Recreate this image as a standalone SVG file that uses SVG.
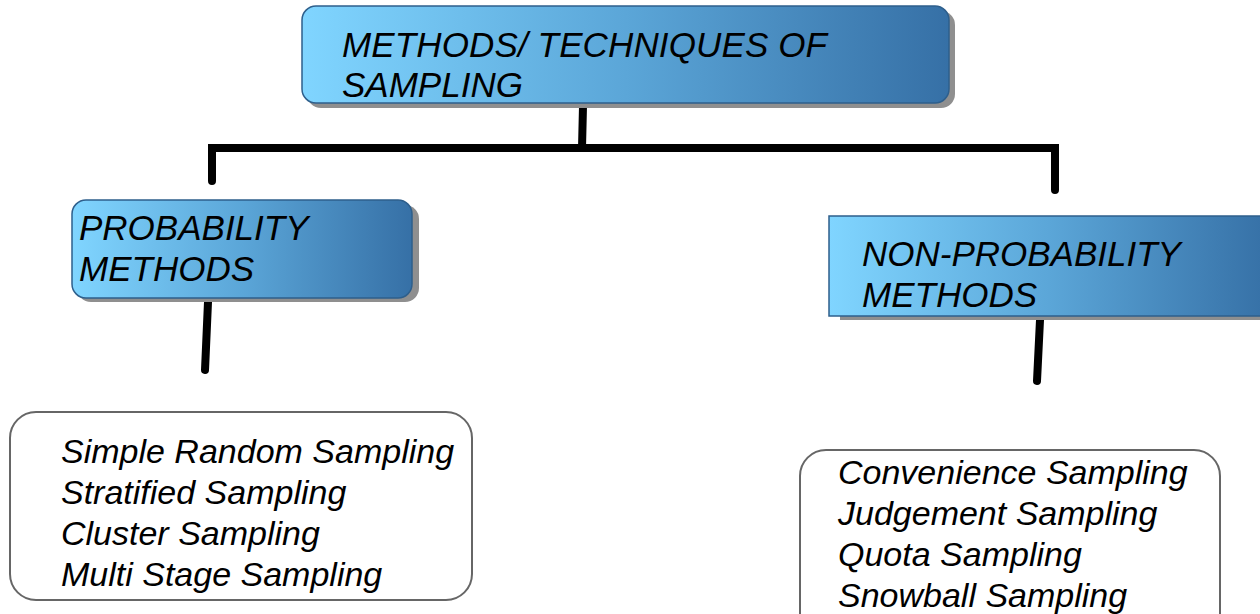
<svg xmlns="http://www.w3.org/2000/svg" width="1260" height="614" viewBox="0 0 1260 614">
<defs>
<linearGradient id="blue" x1="0" y1="0" x2="1" y2="0">
<stop offset="0" stop-color="#80d5ff"/>
<stop offset="0.5" stop-color="#5ba6d8"/>
<stop offset="1" stop-color="#3670a6"/>
</linearGradient>
<style>
.box{fill:url(#blue);stroke:#2e5f8c;stroke-width:1.5}
.shadow{fill:#8f8f8f}
.list{fill:#fff;stroke:#666;stroke-width:2}
text{font-family:"Liberation Sans",Arial,sans-serif;font-style:italic;font-size:34px;fill:#000}
.big{font-size:35px}
.conn{stroke:#000;stroke-width:8;stroke-linecap:round;fill:none}
</style>
</defs>
<rect width="1260" height="614" fill="#fff"/>
<g id="connectors">
<path class="conn" d="M583,106 L582,148"/>
<path class="conn" d="M212,181 L212,148 L1055,148 L1055,190"/>
<path class="conn" d="M208,302 L205,370"/>
<path class="conn" d="M1040,320 L1037,381"/>
</g>
<g id="root">
<rect class="shadow" x="307" y="11" width="648" height="97" rx="14"/>
<rect class="box" x="302" y="6" width="647" height="97" rx="14"/>
<text class="big" x="342" y="57" textLength="485">METHODS/ TECHNIQUES OF</text>
<text class="big" x="342" y="97">SAMPLING</text>
</g>
<g id="probability">
<rect class="shadow" x="77" y="205" width="342" height="97" rx="14"/>
<rect class="box" x="72" y="200" width="340" height="98" rx="14"/>
<text class="big" x="79" y="240">PROBABILITY</text>
<text class="big" x="79" y="281">METHODS</text>
</g>
<g id="nonprobability">
<rect class="shadow" x="840" y="220" width="430" height="100"/>
<rect class="box" x="829" y="216" width="440" height="100"/>
<text class="big" x="862" y="266">NON-PROBABILITY</text>
<text class="big" x="862" y="307">METHODS</text>
</g>
<g id="probability-list">
<rect class="list" x="10" y="412" width="462" height="188" rx="26"/>
<text x="61" y="463">Simple Random Sampling</text>
<text x="61" y="504">Stratified Sampling</text>
<text x="61" y="545">Cluster Sampling</text>
<text x="61" y="586">Multi Stage Sampling</text>
</g>
<g id="nonprobability-list">
<rect class="list" x="800" y="450" width="420" height="190" rx="26"/>
<text x="838" y="484">Convenience Sampling</text>
<text x="838" y="525">Judgement Sampling</text>
<text x="838" y="566">Quota Sampling</text>
<text x="838" y="607">Snowball Sampling</text>
</g>
</svg>
